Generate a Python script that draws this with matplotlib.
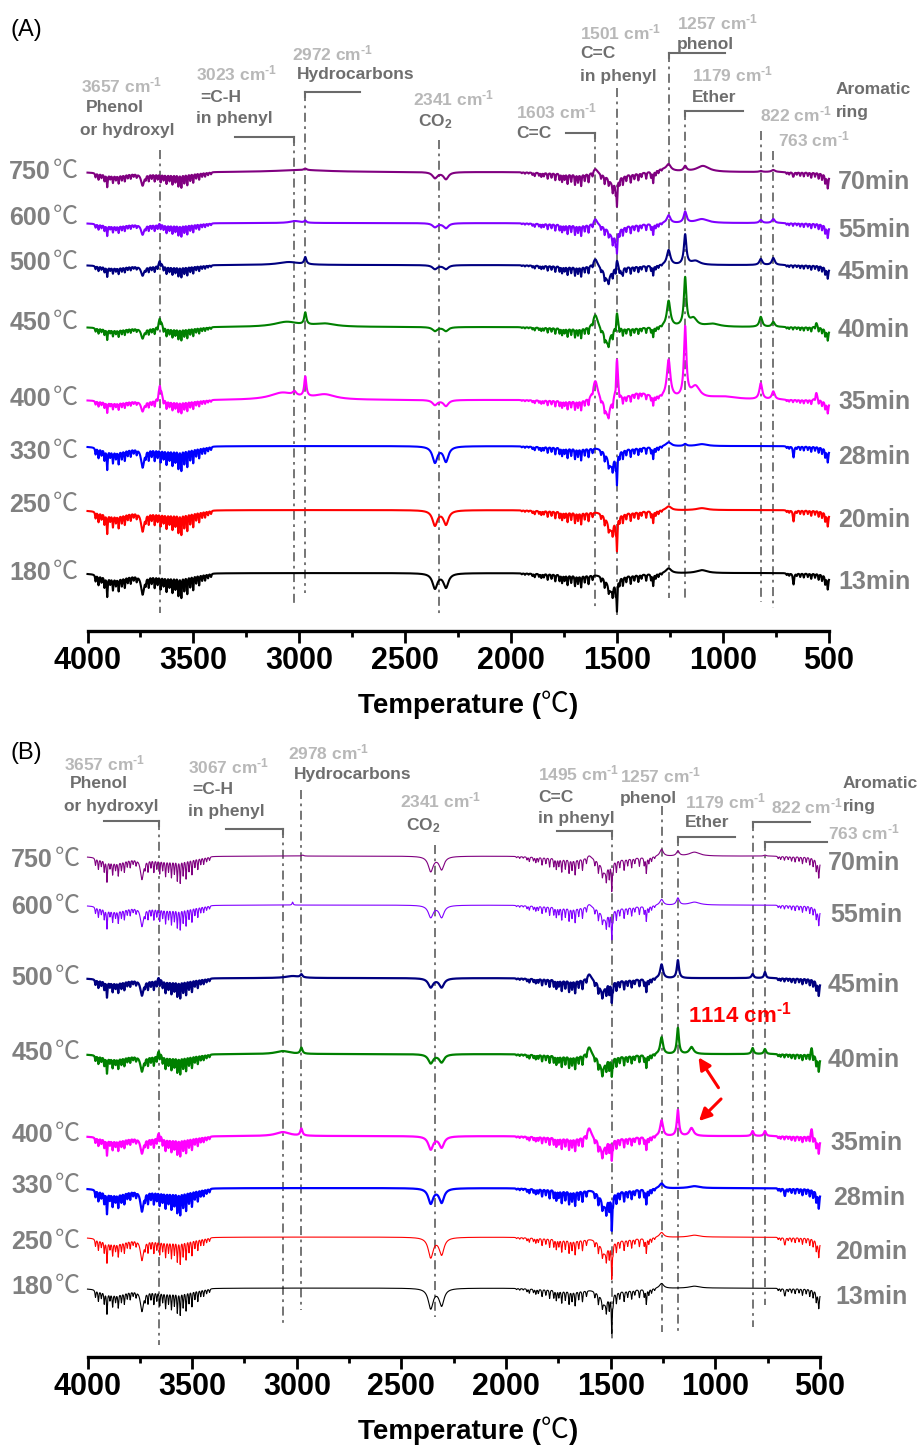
import numpy as np
import matplotlib
matplotlib.use("Agg")
import matplotlib.pyplot as plt

plt.rcParams["font.family"] = ["Liberation Sans", "DejaVu Sans"]
plt.rcParams["mathtext.fontset"] = "custom"
plt.rcParams["mathtext.rm"] = "Liberation Sans:bold"
plt.rcParams["mathtext.bf"] = "Liberation Sans:bold"
plt.rcParams["mathtext.it"] = "Liberation Sans:bold"

W, H = 918, 1451

# ---- data -------------------------------------------------------------
TEMPS = ["750", "600", "500", "450", "400", "330", "250", "180"]
TIMES = ["70min", "55min", "45min", "40min", "35min", "28min", "20min", "13min"]
COLORS = ["#800080", "#8000ff", "#000080", "#008000",
          "#ff00ff", "#0000ff", "#ff0000", "#000000"]

# water vapour lines (centre cm-1, relative depth, half width)
STRETCH_POS = [3962, 3948, 3934, 3920, 3907, 3893, 3880, 3866, 3853, 3838, 3824,
               3810, 3796, 3782, 3768, 3725, 3711, 3697, 3683, 3669, 3655, 3641,
               3627, 3613, 3599, 3585, 3571, 3557, 3543, 3529, 3515, 3501, 3487,
               3473, 3459, 3445, 3431, 3417, 3870, 3740, 3620]
STRETCH_DEPTH = [.3, .45, .3, .5, .9, .3, .55, .35, .6, .4, .5, .3, .35, .2, .25,
                 .3, .5, .35, .55, .4, .6, .45, .7, .5, .75, .6, .9, 1.0, .7, .85,
                 .55, .7, .4, .5, .3, .3, .2, .15,
                 .2, .9, .1]
STRETCH_HW = [2.5] * 38 + [60, 9, 80]

BEND_POS = [1950, 1935, 1918, 1900, 1889, 1869, 1858, 1846, 1828, 1810, 1792,
            1772, 1760, 1748, 1734, 1717, 1699, 1685, 1670, 1653, 1635, 1616,
            1576, 1559, 1540, 1521, 1507, 1489, 1473, 1457, 1436, 1419, 1400,
            1385, 1363, 1340, 1330, 1318, 1305, 1290, 1690, 1450]
BEND_DEPTH = [.08, .12, .1, .2, .3, .25, .35, .3, .5, .4, .6, .55, .7, .5, .85, .65,
              .9, .7, 1.0, .6, .75, .4,
              .4, .7, .55, .8, .9, .6, .75, .5, .7, .45, .6, .35, .55, .5, 1.0, .4,
              .3, .15,
              .12, .12]
BEND_HW = [2.5] * 40 + [90, 80]

FAR_POS = [700, 688, 670, 652, 636, 619, 600, 584, 566, 549, 533, 518, 506, 505]
FAR_DEPTH = [.15, .2, .25, .2, .3, .35, .3, .45, .35, .5, .55, .7, .85, .5]
FAR_HW = [2.5] * 13 + [12]

# gas-phase bands of each trace (centre cm-1, intensity a.u., half width)
A_70 = [(2990, 2, 150), (2972, 1.5, 8), (2360, -6, 14), (2308, -7, 14),
        (1603, 5, 12), (1520, -10, 25), (1501, -25, 2.5), (1290, 3, 50),
        (1257, 6, 12), (1179, 5, 8), (1095, 6, 35), (822, 1, 8), (763, 2, 10),
        (667, -3, 3)]
A_55 = [(3657, 3, 6), (3020, 2, 30), (2972, 2, 6), (2360, -4, 14), (2308, -5, 14),
        (1603, 6, 10), (1520, -12, 25), (1501, -20, 2.5), (1257, 8, 10),
        (1179, 11, 8), (1100, 4, 35), (822, 3, 8), (763, 4, 8)]
A_45 = [(3657, 8, 7), (3050, 3, 60), (2972, 7, 6), (2360, -4, 14), (2308, -4, 14),
        (1603, 8, 12), (1545, -14, 18), (1501, 9, 6), (1480, -6, 4), (1257, 15, 10),
        (1179, 30, 7), (1130, 4, 25), (822, 6, 8), (763, 7, 8)]
A_40 = [(3657, 13, 8), (3060, 5, 70), (2972, 12, 6), (2880, 3, 60), (2360, -4, 14),
        (2308, -4, 14), (1603, 14, 14), (1545, -16, 16), (1501, 18, 6),
        (1257, 26, 10), (1179, 48, 7), (1140, 8, 20), (1050, 3, 40), (822, 10, 8),
        (763, 5, 8), (560, 5, 6)]
A_35 = [(3657, 19, 8), (3080, 7, 70), (3023, 4, 10), (2972, 20, 6), (2880, 5, 60),
        (2360, -5, 14), (2308, -6, 14), (1603, 20, 14), (1545, -17, 15),
        (1501, 42, 6), (1400, 8, 70), (1257, 38, 10), (1179, 70, 7), (1130, 12, 25),
        (1000, 3, 80), (822, 16, 8), (763, 8, 8), (560, 8, 6)]
A_28 = [(2360, -16, 14), (2308, -15, 14), (1530, -18, 20), (1501, -30, 2.5),
        (1257, 4, 15), (1179, 2, 8), (1100, 2, 30), (667, -10, 3)]
A_20 = [(2360, -15, 14), (2308, -14, 14), (1530, -18, 20), (1501, -32, 2.5),
        (1257, 4, 15), (1100, 2, 30), (667, -10, 3)]
A_13 = [(2360, -15, 14), (2308, -14, 14), (1530, -16, 20), (1501, -30, 2.5),
        (1257, 5, 15), (1100, 3, 30), (667, -10, 3)]
A_WATER_HI = [14, 12, 11, 12, 12, 22, 22, 22]
A_WATER_LO = [12, 11, 10, 10, 10, 12, 12, 12]

B_70 = [(2972, 1, 6), (2360, -15, 14), (2308, -13, 14), (1603, 3, 12),
        (1530, -14, 20), (1495, -28, 2.5), (1257, 7, 10), (1179, 5, 8),
        (1100, 4, 30), (763, 1, 6)]
B_55 = [(3020, 3, 3), (2360, -12, 14), (2308, -12, 14), (1603, 3, 12),
        (1530, -12, 20), (1495, -28, 2.5), (1257, 6, 10), (1179, 7, 8),
        (1100, 3, 30)]
B_45 = [(3657, 6, 7), (3020, 2, 40), (2978, 3, 6), (2360, -9, 14), (2308, -9, 14),
        (1603, 6, 12), (1540, -12, 18), (1495, -20, 2.5), (1257, 14, 8),
        (1179, 18, 6), (822, 4, 6), (763, 6, 5)]
B_40 = [(3657, 9, 7), (3067, 3, 40), (2978, 6, 6), (2360, -9, 14), (2308, -8, 14),
        (1603, 9, 12), (1540, -14, 16), (1495, -18, 2.5), (1257, 17, 8),
        (1179, 26, 6), (1114, 7, 12), (822, 6, 6), (763, 5, 6), (540, 8, 5)]
B_35 = [(3657, 9, 7), (3067, 4, 40), (2978, 7, 6), (2360, -13, 14), (2308, -11, 14),
        (1603, 10, 12), (1540, -14, 16), (1495, -20, 2.5), (1257, 16, 8),
        (1179, 26, 6), (1114, 8, 12), (822, 5, 6), (763, 5, 6), (540, 9, 5)]
B_28 = [(2360, -15, 14), (2308, -14, 14), (1530, -16, 20), (1495, -35, 2.5),
        (1257, 5, 12), (1100, 2, 30), (667, -6, 3)]
B_20 = [(2360, -20, 14), (2308, -17, 14), (1530, -14, 20), (1495, -35, 2.5),
        (1257, 5, 12), (1100, 2, 30), (667, -6, 3)]
B_13 = [(2360, -20, 14), (2308, -17, 14), (1530, -14, 20), (1495, -38, 2.5),
        (1257, 5, 12), (1100, 2, 30), (667, -6, 3)]
B_WATER_HI = [24, 22, 18, 18, 18, 24, 24, 24]
B_WATER_LO = [16, 15, 13, 13, 13, 15, 15, 15]

A_MARKS = [3657, 3023, 2972, 2341, 1603, 1501, 1257, 1179, 822, 763]
B_MARKS = [3657, 3067, 2978, 2341, 1495, 1257, 1179, 822, 763]

# ---- layout (pixels from the top of the figure) -----------------------
A_AXIS_Y, B_AXIS_Y, B_TOP_Y = 631, 1357, 730
A_BASE = [172, 223, 265, 327, 400, 446, 510, 573]
A_TEMP_Y = [172, 218, 263, 323, 399, 452, 505, 573]
A_TIME_Y = [182, 230, 272, 330, 402, 457, 520, 582]
B_BASE = [856, 905, 978, 1054, 1136, 1188, 1237, 1288]
B_TEMP_Y = [860, 907, 978, 1053, 1135, 1186, 1242, 1287]
B_TIME_Y = [863, 915, 985, 1060, 1143, 1198, 1252, 1297]
A_LW = [1.5] * 8
B_LW = [0.8, 0.8, 1.6, 1.6, 1.6, 1.6, 0.8, 0.8]

A_MARK_SPAN = [(150, 613), (137, 607), (92, 593), (140, 617), (133, 608),
               (88, 615), (53, 598), (111, 602), (131, 602), (151, 608)]
B_MARK_SPAN = [(821, 1345), (829, 1327), (790, 1310), (845, 1317), (831, 1340),
               (806, 1332), (837, 1335), (822, 1327), (842, 1305)]
# bracket: mark, far end (cm-1), height
A_BRACKETS = [(3023, 3306, 137), (2972, 2715, 92), (1603, 1742, 133),
              (1257, 991, 53), (1179, 906, 111)]
B_BRACKETS = [(3657, 3919, 821), (3067, 3340, 829), (1495, 1757, 831),
              (1179, 906, 837), (822, 547, 822), (763, 466, 842)]

CM = r" cm$^{\text{-1}}$"
A_NOTES = [(81, 85, "3657" + CM, "n"), (86, 108, "Phenol", "t"), (80, 130, "or hydroxyl", "t"),
           (196, 73, "3023" + CM, "n"), (200, 97, "=C-H", "t"), (196, 119, "in phenyl", "t"),
           (292, 53, "2972" + CM, "n"), (297, 75, "Hydrocarbons", "t"),
           (413, 98, "2341" + CM, "n"), (418, 122, r"CO$_{2}$", "t"),
           (516, 111, "1603" + CM, "n"), (516, 133, "C=C", "t"),
           (580, 32, "1501" + CM, "n"), (580, 54, "C=C", "t"), (580, 77, "in phenyl", "t"),
           (677, 22, "1257" + CM, "n"), (677, 45, "phenol", "t"),
           (692, 74, "1179" + CM, "n"), (692, 97, "Ether", "t"),
           (760, 114, "822" + CM, "n"), (778, 139, "763" + CM, "n"),
           (836, 90, "Aromatic", "t"), (836, 113, "ring", "t")]
B_NOTES = [(64, 763, "3657" + CM, "n"), (70, 784, "Phenol", "t"), (64, 806, "or hydroxyl", "t"),
           (188, 766, "3067" + CM, "n"), (192, 790, "=C-H", "t"), (188, 811, "in phenyl", "t"),
           (288, 752, "2978" + CM, "n"), (294, 775, "Hydrocarbons", "t"),
           (400, 800, "2341" + CM, "n"), (406, 826, r"CO$_{2}$", "t"),
           (538, 773, "1495" + CM, "n"), (538, 797, "C=C", "t"), (538, 819, "in phenyl", "t"),
           (620, 775, "1257" + CM, "n"), (620, 798, "phenol", "t"),
           (685, 801, "1179" + CM, "n"), (685, 822, "Ether", "t"),
           (771, 806, "822" + CM, "n"), (843, 783, "Aromatic", "t"), (843, 806, "ring", "t"),
           (828, 832, "763" + CM, "n")]

NUM_GRAY, NAME_GRAY, LABEL_GRAY, MARK_GRAY = "#b8b8b8", "#6e6e6e", "#808080", "#6a6a6a"

wavenumber = np.linspace(4000, 500, 7001)


def lorentz(x, pos, amp, hw):
    y = np.zeros_like(x)
    for c, a, w in zip(pos, amp, hw):
        y += a / (1.0 + ((x - c) / w) ** 2)
    return y


def spectrum(bands, hi, lo):
    y = -hi * lorentz(wavenumber, STRETCH_POS, STRETCH_DEPTH, STRETCH_HW)
    y -= lo * lorentz(wavenumber, BEND_POS, BEND_DEPTH, BEND_HW)
    y -= lo * lorentz(wavenumber, FAR_POS, FAR_DEPTH, FAR_HW)
    c, a, w = zip(*bands)
    return y + lorentz(wavenumber, c, a, w)


fig = plt.figure(figsize=(W / 100, H / 100), dpi=100)


def ftext(x, y, s, **kw):
    return fig.text(x / W, 1 - y / H, s, **kw)


def follow(prev, s, size, weight="normal", cjk=False, dx=0):
    # text placed right after another text artist
    kw = dict(family=["Noto Sans CJK SC", "DejaVu Sans"]) if cjk else {}
    a = plt.Annotation(s, xy=(1, 0), xycoords=prev, xytext=(dx, 0),
                       textcoords="offset points", ha="left", va="bottom",
                       fontsize=size, fontweight=weight, color=prev.get_color(), **kw)
    fig.add_artist(a)
    return a


def celsius_label(x_right, y, num, size):
    t = ftext(x_right, y, num, ha="right", va="center", fontsize=size,
              fontweight="bold", color=LABEL_GRAY)
    follow(t, "℃", size, cjk=True, dx=1)


def axis_title(x_left, y):
    t1 = ftext(x_left, y, "Temperature (", ha="left", va="center", fontsize=20,
               fontweight="bold", color="black")
    t2 = follow(t1, "℃", 20, cjk=True)
    follow(t2, ")", 20, weight="bold")


def draw_panel(rect, y_bottom, y_top, traces, water_hi, water_lo, base, lws,
               marks, spans, brackets, notes, temp_y, time_y, time_x, temp_x, tag, tag_y,
               title_y):
    ax = fig.add_axes(rect)
    ax.set_xlim(4000, 500)
    ax.set_ylim(-y_bottom, -y_top)
    ax.patch.set_alpha(0)
    for s in ["top", "left", "right"]:
        ax.spines[s].set_visible(False)
    ax.spines["bottom"].set_linewidth(2.4)
    ax.set_yticks([])
    ax.set_xticks(np.arange(4000, 499, -500))
    ax.set_xticks(np.arange(3750, 500, -500), minor=True)
    ax.tick_params(axis="x", which="major", length=8.5, width=2, direction="out",
                   labelsize=22, pad=2)
    ax.tick_params(axis="x", which="minor", length=4.5, width=2, direction="out")
    for lab in ax.get_xticklabels():
        lab.set_fontweight("bold")

    for k, bands in enumerate(traces):
        y = spectrum(bands, water_hi[k], water_lo[k]) - base[k]
        ax.plot(wavenumber, y, color=COLORS[k], lw=lws[k], zorder=3, clip_on=False)

    for c, (top, bot) in zip(marks, spans):
        ax.plot([c, c], [-top, -bot], color=MARK_GRAY, lw=1.3,
                ls=(0, (5, 2.5, 1.5, 2.5)), zorder=2, clip_on=False)
    for c, end, yb in brackets:
        ax.plot([end, c], [-yb, -yb], color=MARK_GRAY, lw=1.5, clip_on=False, zorder=2)
        ax.plot([c, c], [-yb, -yb - 5], color=MARK_GRAY, lw=1.5, clip_on=False, zorder=2)

    for x, y, s, kind in notes:
        ftext(x, y, s, ha="left", va="center", fontsize=12.5, fontweight="bold",
              color=NUM_GRAY if kind == "n" else NAME_GRAY)

    for k in range(len(traces)):
        celsius_label(temp_x, temp_y[k], TEMPS[k], 18)
        ftext(time_x[k], time_y[k], TIMES[k], ha="left", va="center", fontsize=18,
              fontweight="bold", color=LABEL_GRAY)

    ftext(10, tag_y, tag, ha="left", va="center", fontsize=17, color="black")
    axis_title(358, title_y)
    return ax


xa0, xa1 = 87.5, 829
draw_panel([xa0 / W, 1 - A_AXIS_Y / H, (xa1 - xa0) / W, A_AXIS_Y / H],
           A_AXIS_Y, 0, [A_70, A_55, A_45, A_40, A_35, A_28, A_20, A_13],
           A_WATER_HI, A_WATER_LO, A_BASE, A_LW, A_MARKS, A_MARK_SPAN, A_BRACKETS,
           A_NOTES, A_TEMP_Y, A_TIME_Y, [838] * 8, 51, "(A)", 30, 706)

xb0, xb1 = 87.5, 820
draw_panel([xb0 / W, 1 - B_AXIS_Y / H, (xb1 - xb0) / W, (B_AXIS_Y - B_TOP_Y) / H],
           B_AXIS_Y, B_TOP_Y, [B_70, B_55, B_45, B_40, B_35, B_28, B_20, B_13],
           B_WATER_HI, B_WATER_LO, B_BASE, B_LW, B_MARKS, B_MARK_SPAN, B_BRACKETS,
           B_NOTES, B_TEMP_Y, B_TIME_Y, [828, 830, 828, 828, 830, 833, 835, 835],
           53, "(B)", 753, 1432)

# new shoulder at 1114 cm-1
ftext(688, 1015, "1114" + CM, ha="left", va="center", fontsize=16,
      fontweight="bold", color="#ff0000")
for (x0, y0), (x1, y1) in [((720, 1090), (697, 1055)), ((723, 1097), (697, 1123))]:
    fig.add_artist(plt.Annotation("", xy=(x1, H - y1), xycoords="figure pixels",
                                  xytext=(x0, H - y0), textcoords="figure pixels",
                                  arrowprops=dict(arrowstyle="-|>", color="#ff0000", lw=2.2,
                                                  mutation_scale=18)))

fig.savefig("out.png", dpi=100)
